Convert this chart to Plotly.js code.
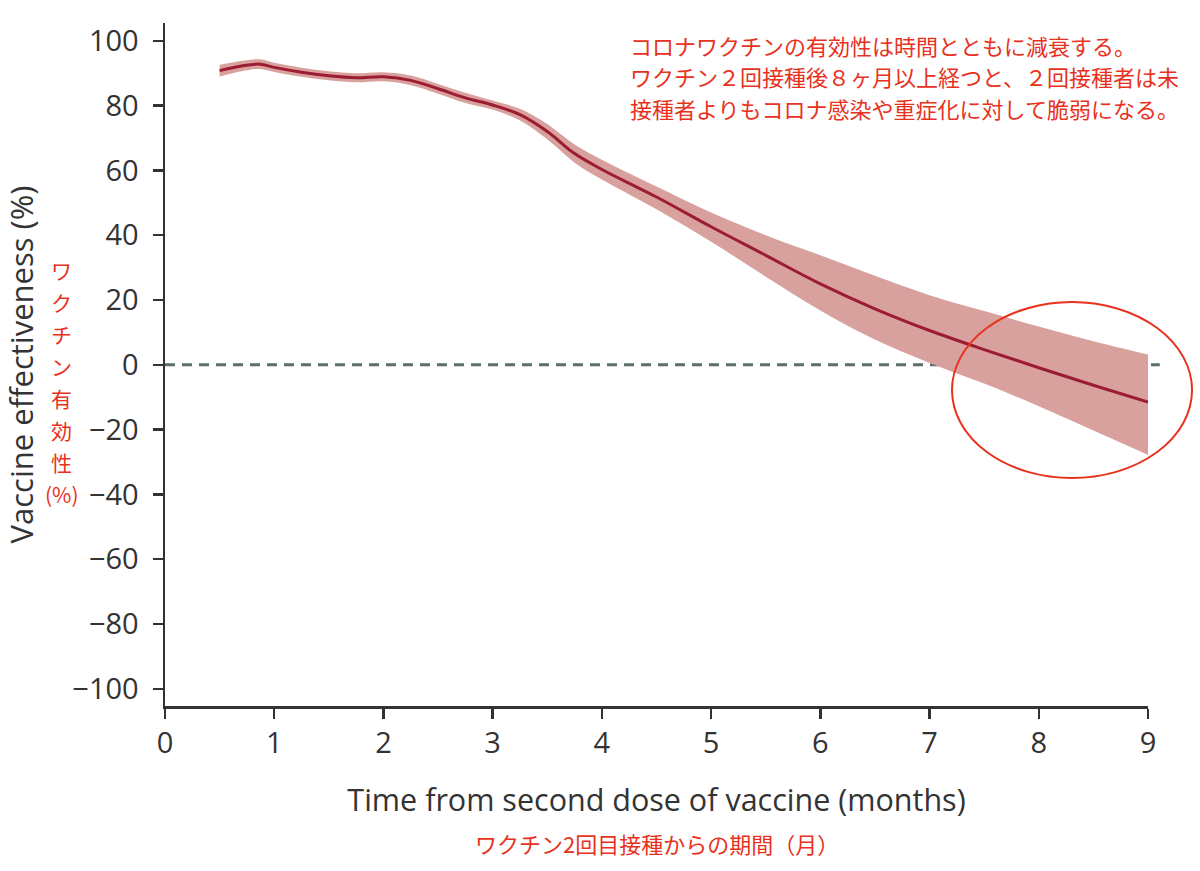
<!DOCTYPE html>
<html>
<head>
<meta charset="utf-8">
<script src="https://cdn.plot.ly/plotly-3.0.1.min.js"></script>
<style>
  body { margin: 0; background: #fff; }
  #chart { width: 1200px; height: 871px; }
</style>
</head>
<body>
<div id="chart"></div>
<script>
// months after second dose
var months = [0.5, 0.7, 0.87, 1.0, 1.25, 1.5, 1.75, 2.0, 2.25, 2.5, 2.75, 3.0, 3.25, 3.5, 3.75, 4.0, 4.5, 5.0, 5.5, 6.0, 6.5, 7.0, 7.5, 8.0, 8.5, 9.0];
var effect = [90.8, 92.2, 92.8, 91.8, 90.3, 89.2, 88.6, 88.9, 87.8, 85.2, 82.4, 80.2, 77.2, 72.0, 65.2, 60.3, 51.8, 42.6, 33.8, 25.0, 17.3, 10.6, 4.7, -0.9, -6.3, -11.5];
var upper  = [92.6, 93.8, 94.3, 93.2, 91.7, 90.6, 90.0, 90.3, 89.3, 86.7, 84.0, 81.6, 79.0, 74.3, 68.0, 63.3, 55.0, 47.0, 40.0, 33.8, 27.5, 21.5, 16.6, 11.8, 7.3, 3.2];
var lower  = [89.0, 90.6, 91.3, 90.4, 88.9, 87.8, 87.2, 87.5, 86.3, 83.7, 80.8, 78.8, 75.4, 69.6, 62.4, 57.2, 48.0, 38.0, 27.2, 16.8, 7.8, 0.6, -5.8, -12.8, -20.3, -27.8];

var xTicks = [0, 1, 2, 3, 4, 5, 6, 7, 8, 9];
var yTicks = [-100, -80, -60, -40, -20, 0, 20, 40, 60, 80, 100];

var noteLines = [
  "コロナワクチンの有効性は時間とともに減衰する。",
  "ワクチン２回接種後８ヶ月以上経つと、２回接種者は未",
  "接種者よりもコロナ感染や重症化に対して脆弱になる。"
];
var yNoteChars = ["ワ", "ク", "チ", "ン", "有", "効", "性", "(%)"];
var xNote = "ワクチン2回目接種からの期間（月）";

var red = "#e8321e";
var jpFont = "Noto Sans CJK JP, sans-serif";
var latFont = "Open Sans, Noto Sans, sans-serif";

var bandLow = {
  x: months, y: lower,
  mode: "lines", type: "scatter",
  line: { width: 0, shape: "spline" },
  hoverinfo: "skip", showlegend: false
};
var bandHigh = {
  x: months, y: upper,
  mode: "lines", type: "scatter",
  fill: "tonexty", fillcolor: "#d9a19e",
  line: { width: 0, shape: "spline" },
  hoverinfo: "skip", showlegend: false
};
var mainLine = {
  x: months, y: effect,
  mode: "lines", type: "scatter",
  line: { color: "#9c1c32", width: 3, shape: "spline" },
  showlegend: false
};

var annotations = [];
for (var i = 0; i < noteLines.length; i++) {
  annotations.push({
    xref: "paper", yref: "paper",
    x: 0.471, y: 0.968 - i * 0.0463,
    xanchor: "left", yanchor: "middle",
    text: noteLines[i], showarrow: false,
    font: { family: jpFont, size: 22, color: red }
  });
}
for (var j = 0; j < yNoteChars.length; j++) {
  annotations.push({
    xref: "paper", yref: "paper",
    x: -0.1048, y: 0.638 - j * 0.0469,
    xanchor: "center", yanchor: "middle",
    text: yNoteChars[j], showarrow: false,
    font: { family: jpFont, size: 21, color: red }
  });
}
annotations.push({
  xref: "paper", yref: "paper",
  x: 0.5, y: -0.2006,
  xanchor: "center", yanchor: "middle",
  text: xNote, showarrow: false,
  font: { family: jpFont, size: 22, color: red }
});

var layout = {
  width: 1200,
  height: 871,
  margin: { l: 165, r: 52, t: 23, b: 165, pad: 0 },
  paper_bgcolor: "#fff",
  plot_bgcolor: "#fff",
  font: { family: latFont, color: "#333" },
  xaxis: {
    range: [0, 9],
    tickvals: xTicks,
    showgrid: false, zeroline: false,
    showline: true, linecolor: "#333", linewidth: 2.5,
    ticks: "outside", ticklen: 10, tickwidth: 2.5, tickcolor: "#333",
    tickfont: { family: latFont, size: 29, color: "#333" },
    title: { text: "Time from second dose of vaccine (months)", standoff: 30,
             font: { family: latFont, size: 30.5, color: "#333" } }
  },
  yaxis: {
    range: [-105.3, 105.5],
    tickvals: yTicks,
    showgrid: false, zeroline: false,
    showline: true, linecolor: "#333", linewidth: 2.5,
    ticks: "outside", ticklen: 10, tickwidth: 2.5, tickcolor: "#333",
    ticklabelstandoff: 8,
    tickfont: { family: latFont, size: 29, color: "#333" },
    title: { text: "Vaccine effectiveness (%)", standoff: 48,
             font: { family: latFont, size: 31, color: "#333" } }
  },
  shapes: [
    {
      type: "line", xref: "paper", yref: "y",
      x0: 0, x1: 1.012, y0: 0, y1: 0,
      line: { color: "#5d6e6e", width: 3, dash: "10px,7px" },
      layer: "below"
    },
    {
      type: "circle", xref: "paper", yref: "paper",
      x0: 0.8006, x1: 1.0448, y0: 0.3338, y1: 0.5915,
      line: { color: red, width: 2 }
    }
  ],
  annotations: annotations
};

Plotly.newPlot("chart", [bandLow, bandHigh, mainLine], layout, { displayModeBar: false, staticPlot: true });
</script>
</body>
</html>
